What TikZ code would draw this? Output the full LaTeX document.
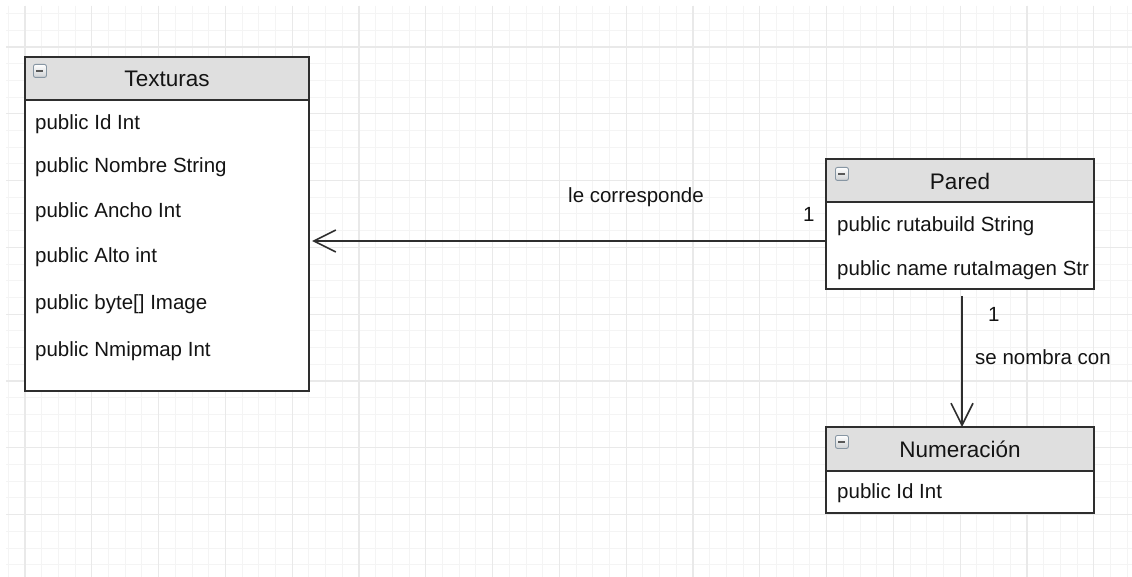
\documentclass[tikz,border=0pt]{standalone}
\usepackage{fontspec}
\setmainfont{Liberation Sans}
\usetikzlibrary{arrows.meta,calc}

\definecolor{gridminor}{HTML}{F4F4F4}
\definecolor{gridmajor}{HTML}{E9E9E9}
\definecolor{boxline}{HTML}{2E2E2E}
\definecolor{headfill}{HTML}{DFDFDF}
\definecolor{txt}{HTML}{141414}
\definecolor{iconline}{HTML}{8796A3}

\tikzset{
  minorline/.style={draw=gridminor, line width=1pt},
  majorline/.style={draw=gridmajor, line width=1.1pt},
  classbody/.style={draw=boxline, line width=1.8pt, fill=white, anchor=north west,
    inner sep=0pt, outer sep=0pt},
  classhead/.style={draw=boxline, line width=1.8pt, fill=headfill, anchor=north west,
    inner sep=0pt, outer sep=0pt},
  title/.style={anchor=base, inner sep=0pt, text=txt, font=\fontsize{22.5}{26}\selectfont},
  attr/.style={anchor=base west, inner sep=0pt, text=txt, font=\fontsize{20.5}{24}\selectfont},
  lbl/.style={anchor=base west, inner sep=0pt, text=txt, font=\fontsize{20.5}{24}\selectfont},
  icon/.style={draw=iconline, line width=0.9pt, rounded corners=2pt,
    top color=white, bottom color=headfill!80!iconline,
    minimum width=13pt, minimum height=13pt, inner sep=0pt, anchor=north west},
  assoc/.style={draw=boxline, line width=1.6pt,
    -{Straight Barb[length=22pt, width=22pt, line width=1.6pt]}},
}

\newcommand{\minusicon}[2]{%
  \node[icon] (#1) at #2 {};
  \draw[boxline!80, line width=1.8pt] ($(#1.center)+(-3.5,0)$) -- ($(#1.center)+(3.5,0)$);
}

\begin{document}
\begin{tikzpicture}[x=1pt, y=-1pt]
  \useasboundingbox (0,0) rectangle (1132,577);
  \fill[white] (0,0) rectangle (1132,577);

  % background grid
  \foreach \k in {-1,...,66} {
    \pgfmathsetmacro\gx{25+\k*16.7}
    \draw[minorline] (\gx,6) -- (\gx,577);
  }
  \foreach \k in {-2,...,31} {
    \pgfmathsetmacro\gy{47+\k*16.7}
    \draw[minorline] (6,\gy) -- (1132,\gy);
  }
  \foreach \k in {0,...,16} {
    \pgfmathsetmacro\gx{25+\k*66.8}
    \draw[majorline] (\gx,6) -- (\gx,577);
  }
  \foreach \k in {0,...,7} {
    \pgfmathsetmacro\gy{47+\k*66.8}
    \draw[majorline] (6,\gy) -- (1132,\gy);
  }

  % class Texturas
  \node[classbody, minimum width=284pt, minimum height=334pt] (tex) at (25,57) {};
  \node[classhead, minimum width=284pt, minimum height=43pt] (texh) at (25,57) {};
  \minusicon{texi}{(33,64)}
  \node[title] (text) at (167,87) {Texturas};
  \node[attr] (ta1) at (35,129.5) {public Id Int};
  \node[attr] (ta2) at (35,172.5) {public Nombre String};
  \node[attr] (ta3) at (35,217.5) {public Ancho Int};
  \node[attr] (ta4) at (35,262.5) {public Alto int};
  \node[attr] (ta5) at (35,309.5) {public byte[] Image};
  \node[attr] (ta6) at (35,356.5) {public Nmipmap Int};

  % class Pared
  \node[classbody, minimum width=268pt, minimum height=130pt] (par) at (826,159) {};
  \node[classhead, minimum width=268pt, minimum height=43pt] (parh) at (826,159) {};
  \minusicon{pari}{(835,167)}
  \node[title] (part) at (960,190) {Pared};
  \node[attr] (pa1) at (837,231.5) {public rutabuild String};
  \begin{scope}
    \clip (par.north west) rectangle ([xshift=-6pt]par.south east);
    \node[attr] (pa2) at (837,275.5) {public name rutaImagen String};
  \end{scope}

  % class Numeración
  \node[classbody, minimum width=268pt, minimum height=86pt] (num) at (826,427) {};
  \node[classhead, minimum width=268pt, minimum height=44pt] (numh) at (826,427) {};
  \minusicon{numi}{(835,435)}
  \node[title] (numt) at (960,457) {Numeración};
  \node[attr] (na1) at (837,498.5) {public Id Int};

  % associations
  \draw[assoc] (par.west |- 0,241) -- ([xshift=3pt]tex.east |- 0,241);
  \node[lbl] (l1) at (568,203) {le corresponde};
  \node[lbl] (m1) at (803,222) {1};

  \coordinate (vtop) at ([yshift=-7pt]par.south -| 962,0);
  \draw[assoc] (vtop) -- (num.north -| vtop);
  \node[lbl] (m2) at (988,321) {1};
  \node[lbl] (l2) at (975,364) {se nombra con};
\end{tikzpicture}
\end{document}
